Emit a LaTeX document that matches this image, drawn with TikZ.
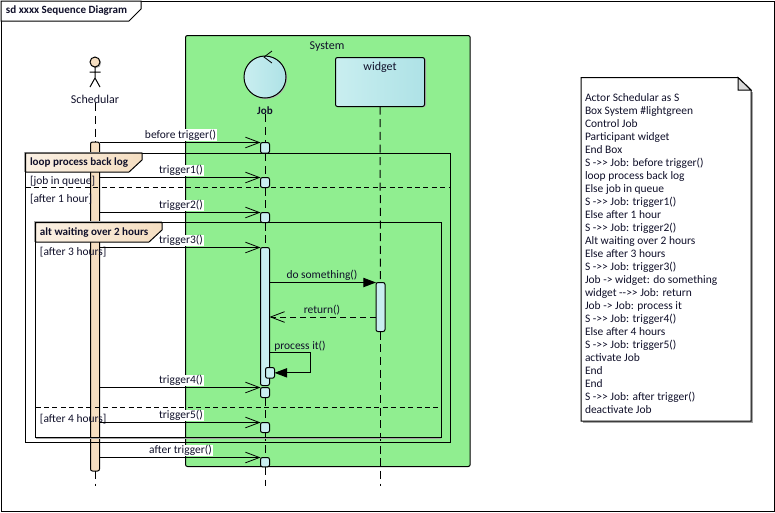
\documentclass[tikz,border=0pt]{standalone}
\usepackage{fontspec}
\setmainfont{Carlito}
\usetikzlibrary{arrows.meta,calc}
\definecolor{sysgreen}{HTML}{90EE90}
\definecolor{peach}{HTML}{F5DEC1}
\definecolor{peachl}{HTML}{FBF1E4}
\definecolor{cyanl}{HTML}{C9EEF0}
\definecolor{cyand}{HTML}{AEE2E6}
\definecolor{ink}{HTML}{10102A}
\newcommand{\fs}{\fontsize{8.6pt}{9.75pt}\selectfont}
\newcommand{\fh}{\fontsize{9pt}{9.75pt}\selectfont}
\newcommand{\fb}{\fontsize{8.3pt}{9.75pt}\selectfont\bfseries}
\newcommand{\arrs}{-{}>{}>}
\tikzset{
  x=0.75pt,y=-0.75pt,
  every node/.style={inner sep=0pt,outer sep=0pt,text=ink,font=\fs},
  ln/.style={draw=black,line width=0.75pt},
  life/.style={draw=black,line width=0.75pt,dash pattern=on 6pt off 3.5pt},
  actbar/.style={draw=black,line width=0.75pt,fill=cyanl,rounded corners=1.5pt,minimum width=6.75pt,anchor=north},
  actorbar/.style={actbar,fill=peach},
  msg/.style={draw=black,line width=0.75pt,-{Straight Barb[length=10.5pt,width=8pt,line width=0.6pt]}},
  ret/.style={msg,dash pattern=on 4.5pt off 3pt},
  call/.style={draw=black,line width=0.75pt,-{Triangle[length=9.5pt,width=7pt,fill=black]}},
  lbl/.style={fill=white,inner sep=0.6pt},
  guard/.style={anchor=west},
  tabtext/.style={anchor=west,font=\fb},
  frm/.style={draw=black,line width=0.75pt},
  shadowline/.style={draw=black!35,line width=0.75pt},
  sep/.style={draw=black,line width=0.75pt,dash pattern=on 3.75pt off 2.6pt},
}
\begin{document}
\begin{tikzpicture}
\useasboundingbox (0,0) rectangle (775,512);
\fill[white] (0,0) rectangle (775,512);
% outer frame
\draw[frm] (1,1) rectangle (774,511);
\draw[frm,fill=white] (1,1) -- (141,1) -- (141,9) -- (129,21) -- (1,21) -- cycle;
\node[tabtext] (title) at (6,11) {sd xxxx Sequence Diagram};
% system box
\node[draw=black,line width=0.75pt,fill=sysgreen,rounded corners=1.5pt,minimum width=213.5pt,minimum height=323.25pt,anchor=north west] (sys) at (185.5,35.5) {};
\node[font=\fh] (systxt) at (327,46.5) {System};
% actor
\fill[black!30] (96,63) circle (5.2);
\draw[ln,fill=peach] (95,62) circle (5);
\coordinate (hb) at (95,67);
\coordinate (hip) at (95,78);
\draw[ln] (hb) -- (hip) (89.5,72) -- (100.5,72) (hip) -- (90,87) (hip) -- (100,87);
\node[font=\fh] (sn) at (95,99) {Schedular};
% job
\fill[black!30] (266,78) circle (21);
\draw[ln,left color=cyanl,right color=cyand] (265,77) circle (21);
\draw[ln,line width=0.6pt] (272,51) -- (264,57) -- (272,63);
\node[font=\fb] (jn) at (265,110.5) {Job};
% widget
\fill[black!30,rounded corners=1.5pt] (336,58) rectangle (426,107);
\node[draw=black,line width=0.75pt,left color=cyanl,right color=cyand,rounded corners=1.5pt,minimum width=66.75pt,minimum height=36.75pt,anchor=north west] (wbox) at (335.5,57.5) {};
\node[font=\fh] (wn) at (380,67) {widget};
% coordinates
\coordinate (send) at (95,486);
\coordinate (jend) at (265,486);
\coordinate (wend) at (380.5,486);
% activations
\node[actorbar,minimum height=246.75pt] (sbar) at (95,142) {};
\node[actbar,minimum height=8pt] (j1) at (265,142.5) {};
\node[actbar,minimum height=7.5pt] (j2) at (265,177.5) {};
\node[actbar,minimum height=7.5pt] (j3) at (265,212.5) {};
\node[actbar,minimum height=103.5pt] (j4) at (265,247.5) {};
\node[actbar,minimum height=7.5pt] (j5) at (265,387.5) {};
\node[actbar,minimum height=7.5pt] (j6) at (265,422.5) {};
\node[actbar,minimum height=7pt] (j7) at (265,457.5) {};
\node[actbar,minimum height=36.75pt] (w1) at (380.5,282.5) {};
\node[actbar,minimum height=8pt] (js) at (270,367.5) {};
% lifelines
\draw[life] (sn.south) -- (sbar.north);
\draw[life] (sbar.south) -- (send);
\draw[life] (jn.south) -- (j1.north);
\draw[life] (j1.south) -- (j2.north);
\draw[life] (j2.south) -- (j3.north);
\draw[life] (j3.south) -- (j4.north);
\draw[life] (j5.south) -- (j6.north);
\draw[life] (j6.south) -- (j7.north);
\draw[life] (j7.south) -- (jend);
\draw[life] (wbox.south) -- (w1.north);
\draw[life] (w1.south) -- (wend);
% loop frame
\draw[shadowline] (24.5,172) |- (142,152);
\draw[frm] (25.5,153) rectangle (450,442);
\draw[frm,left color=peachl,right color=peach] (25.5,153) -- (142,153) -- (142,160) -- (129,172) -- (25.5,172) -- cycle;
\node[tabtext] (loopt) at (30,162.5) {loop process back log};
\node[guard] (g1) at (30,181.5) {[job in queue]};
\node[guard] (g2) at (30,199) {[after 1 hour]};
\draw[sep] (25.5,187.5) -- (450,187.5);
% alt frame
\draw[shadowline] (34.5,242) |- (162,221.5);
\draw[shadowline] (35.5,438) -- (441,438);
\draw[frm] (35.5,222.5) rectangle (441,437);
\draw[frm,left color=peachl,right color=peach] (35.5,222.5) -- (162,222.5) -- (162,230) -- (149,242) -- (35.5,242) -- cycle;
\node[tabtext] (altt) at (40,232.5) {alt waiting over 2 hours};
\node[guard] (g3) at (40,252) {[after 3 hours]};
\node[guard] (g4) at (40,419) {[after 4 hours]};
\draw[sep] (35.5,407.5) -- (441,407.5);
% messages
\draw[msg] (sbar.east |- j1.north west) -- (j1.north west);
\draw[msg] (sbar.east |- j2.north west) -- (j2.north west);
\draw[msg] (sbar.east |- j3.north west) -- (j3.north west);
\draw[msg] (sbar.east |- j4.north west) -- (j4.north west);
\draw[msg] (sbar.east |- j5.north west) -- (j5.north west);
\draw[msg] (sbar.east |- j6.north west) -- (j6.north west);
\draw[msg] (sbar.east |- j7.north west) -- (j7.north west);
\draw[call] (j4.east |- w1.north west) -- (w1.north west);
\coordinate (rety) at (380.5,317);
\draw[ret] (w1.west |- rety) -- (j4.east |- rety);
\coordinate (selfa) at (269.5,352.5);
\coordinate (selfb) at (310.5,352.5);
\draw[call] (selfa) -- (selfb) |- (js.east);
% message labels
\node[lbl] (l1) at (180.5,135) {before trigger()};
\node[lbl] (l2) at (181,170.5) {trigger1()};
\node[lbl] (l3) at (181,205.5) {trigger2()};
\node[lbl] (l4) at (181,240.5) {trigger3()};
\node[lbl] (l5) at (181,380.5) {trigger4()};
\node[lbl] (l6) at (181,415.5) {trigger5()};
\node[lbl] (l7) at (180.5,450.5) {after trigger()};
\node (l8) at (322,275.5) {do something()};
\node (l9) at (322,310.5) {return()};
\node (l10) at (300,346.5) {process it()};
% note
\fill[black!35] (583,92) rectangle (753,423);
\draw[frm,fill=white] (581,77.5) -- (738,77.5) -- (751,90) -- (751,421) -- (581,421) -- cycle;
\draw[frm,fill=black!15] (738,77.5) -- (738,90) -- (751,90) -- cycle;
\node[anchor=north west,align=left,font=\fs] (note) at (585,94) {Actor Schedular as S\\
Box System \#lightgreen\\
Control Job\\
Participant widget\\
End Box\\
S \arrs{} Job: before trigger()\\
loop process back log\\
Else job in queue\\
S \arrs{} Job: trigger1()\\
Else after 1 hour\\
S \arrs{} Job: trigger2()\\
Alt waiting over 2 hours\\
Else after 3 hours\\
S \arrs{} Job: trigger3()\\
Job -{}> widget: do something\\
widget -{}-{}>{}> Job: return\\
Job -{}> Job: process it\\
S \arrs{} Job: trigger4()\\
Else after 4 hours\\
S \arrs{} Job: trigger5()\\
activate Job\\
End\\
End\\
S \arrs{} Job: after trigger()\\
deactivate Job};
\end{tikzpicture}
\end{document}
